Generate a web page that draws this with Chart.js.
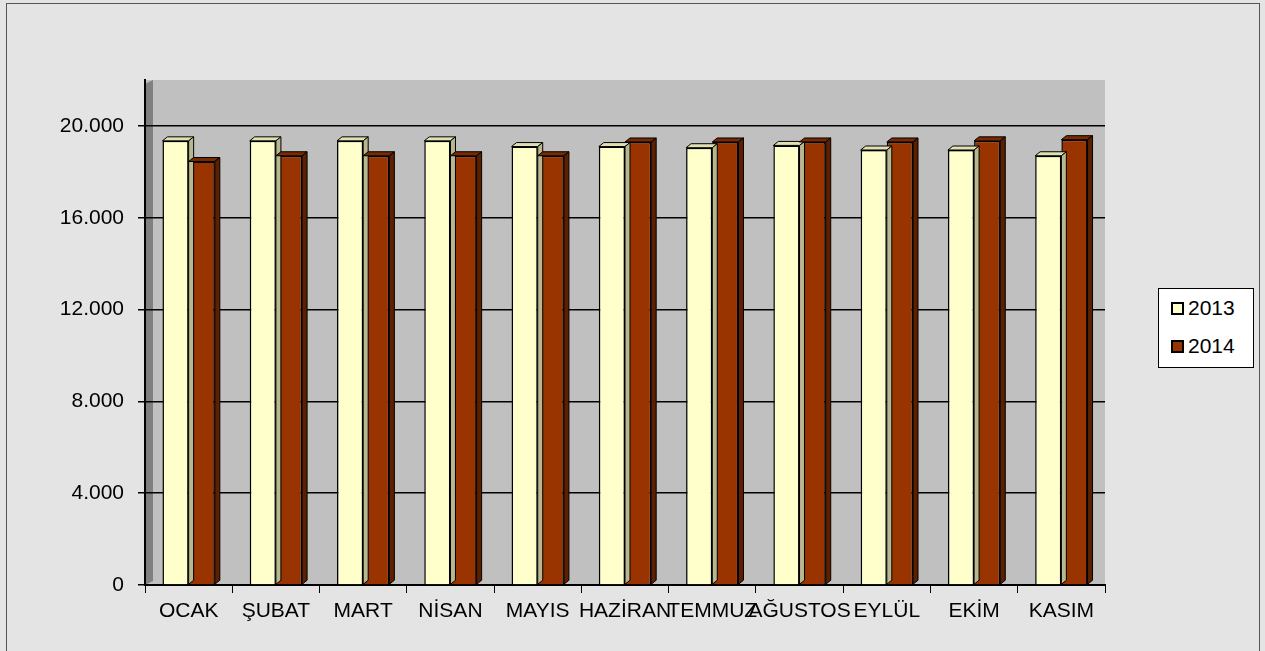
<!DOCTYPE html>
<html>
<head>
<meta charset="utf-8">
<script src="https://cdn.jsdelivr.net/npm/chart.js@4"></script>
<style>
  body { margin: 0; background: #e4e4e4; font-family: 'Liberation Sans', Arial, sans-serif; }
  #wrap { position: relative; width: 1265px; height: 651px; }
  #frame { position: absolute; left: 6px; top: 3px; width: 1254px; height: 660px; border: 1px solid #555; box-sizing: border-box; pointer-events: none; }
  #legend { position: absolute; left: 1158px; top: 288px; width: 96px; height: 80px; background: #fff; border: 1px solid #000; box-sizing: border-box; font-size: 21px; }
  #legend div { display: flex; align-items: center; height: 38px; padding-left: 12px; }
  #legend span.sw { display: inline-block; width: 9px; height: 9px; border: 2px solid #000; margin-right: 4px; }
</style>
</head>
<body>
<div id="wrap">
  <canvas id="myChart" width="1265" height="651"></canvas>
  <div id="frame"></div>
  <div id="legend">
    <div><span class="sw" style="background:#ffffcc"></span>2013</div>
    <div><span class="sw" style="background:#993300"></span>2014</div>
  </div>
</div>
<script>
const months = ['OCAK', 'ŞUBAT', 'MART', 'NİSAN', 'MAYIS', 'HAZİRAN', 'TEMMUZ', 'AĞUSTOS', 'EYLÜL', 'EKİM', 'KASIM'];
const data2013 = [19350, 19350, 19350, 19350, 19100, 19100, 19050, 19150, 18950, 18950, 18700];
const data2014 = [18450, 18700, 18700, 18700, 18700, 19300, 19300, 19300, 19300, 19350, 19400];
const yTicks = [0, 4000, 8000, 12000, 16000, 20000];

// gray plot area with a darker left wall
const wallPlugin = {
  id: 'wall',
  beforeDraw(chart) {
    const a = chart.chartArea;
    const c = chart.ctx;
    c.save();
    c.fillStyle = '#c0c0c0';
    c.fillRect(a.left, a.top, a.right - a.left, a.bottom - a.top);
    c.fillStyle = '#808080';
    c.beginPath();
    c.moveTo(a.left, a.top + 4);
    c.lineTo(a.left + 8, a.top);
    c.lineTo(a.left + 8, a.bottom - 4);
    c.lineTo(a.left, a.bottom);
    c.closePath();
    c.fill();
    c.restore();
  },
};

// fake 3d sides on each bar
const depthPlugin = {
  id: 'depth',
  afterDatasetsDraw(chart) {
    const c = chart.ctx;
    const dx = 5;
    const dy = 4;
    c.save();
    c.strokeStyle = '#000';
    c.lineWidth = 1;
    chart.data.datasets.forEach((ds, i) => {
      const top = i === 0 ? '#e0e0b0' : '#7a2900';
      const side = i === 0 ? '#b8b890' : '#5c1f00';
      chart.getDatasetMeta(i).data.forEach((bar) => {
        const l = bar.x - bar.width / 2;
        const r = bar.x + bar.width / 2;
        const t = bar.y;
        const b = bar.base;
        c.fillStyle = top;
        c.beginPath();
        c.moveTo(l, t); c.lineTo(l + dx, t - dy); c.lineTo(r + dx, t - dy); c.lineTo(r, t); c.closePath();
        c.fill(); c.stroke();
        c.fillStyle = side;
        c.beginPath();
        c.moveTo(r, t); c.lineTo(r + dx, t - dy); c.lineTo(r + dx, b - dy); c.lineTo(r, b); c.closePath();
        c.fill(); c.stroke();
      });
    });
    c.restore();
  },
};

const ctx = document.getElementById('myChart').getContext('2d');
const myChart = new Chart(ctx, {
  type: 'bar',
  data: {
    labels: months,
    datasets: [{
      label: '2013',
      data: data2013,
      backgroundColor: '#ffffcc',
      borderColor: '#000',
      borderWidth: 1.5,
    }, {
      label: '2014',
      data: data2014,
      backgroundColor: '#993300',
      borderColor: '#000',
      borderWidth: 1.5,
    }],
  },
  options: {
    responsive: false,
    animation: false,
    layout: { padding: { left: 0, top: 80, right: 160, bottom: 0 } },
    plugins: { legend: { display: false }, tooltip: { enabled: false } },
    datasets: { bar: { categoryPercentage: 0.6, barPercentage: 1.0 } },
    scales: {
      x: {
        afterFit(axis) { axis.height = 66; },
        border: { color: '#000', width: 2 },
        grid: { drawOnChartArea: false, color: '#000', tickLength: 8, offset: true },
        ticks: { color: '#000', font: { family: 'Liberation Sans', size: 21 }, padding: 6, maxRotation: 0, autoSkip: false },
      },
      y: {
        min: 0,
        max: 22000,
        afterFit(axis) { axis.width = 145; },
        afterBuildTicks(axis) { axis.ticks = yTicks.map((v) => ({ value: v })); },
        border: { color: '#000', width: 2 },
        grid: { color: '#000', lineWidth: 1.5, tickLength: 7 },
        ticks: {
          color: '#000',
          font: { family: 'Liberation Sans', size: 21 },
          padding: 14,
          callback: (v) => v.toLocaleString('de-DE'),
        },
      },
    },
  },
  plugins: [wallPlugin, depthPlugin],
});
</script>
</body>
</html>
